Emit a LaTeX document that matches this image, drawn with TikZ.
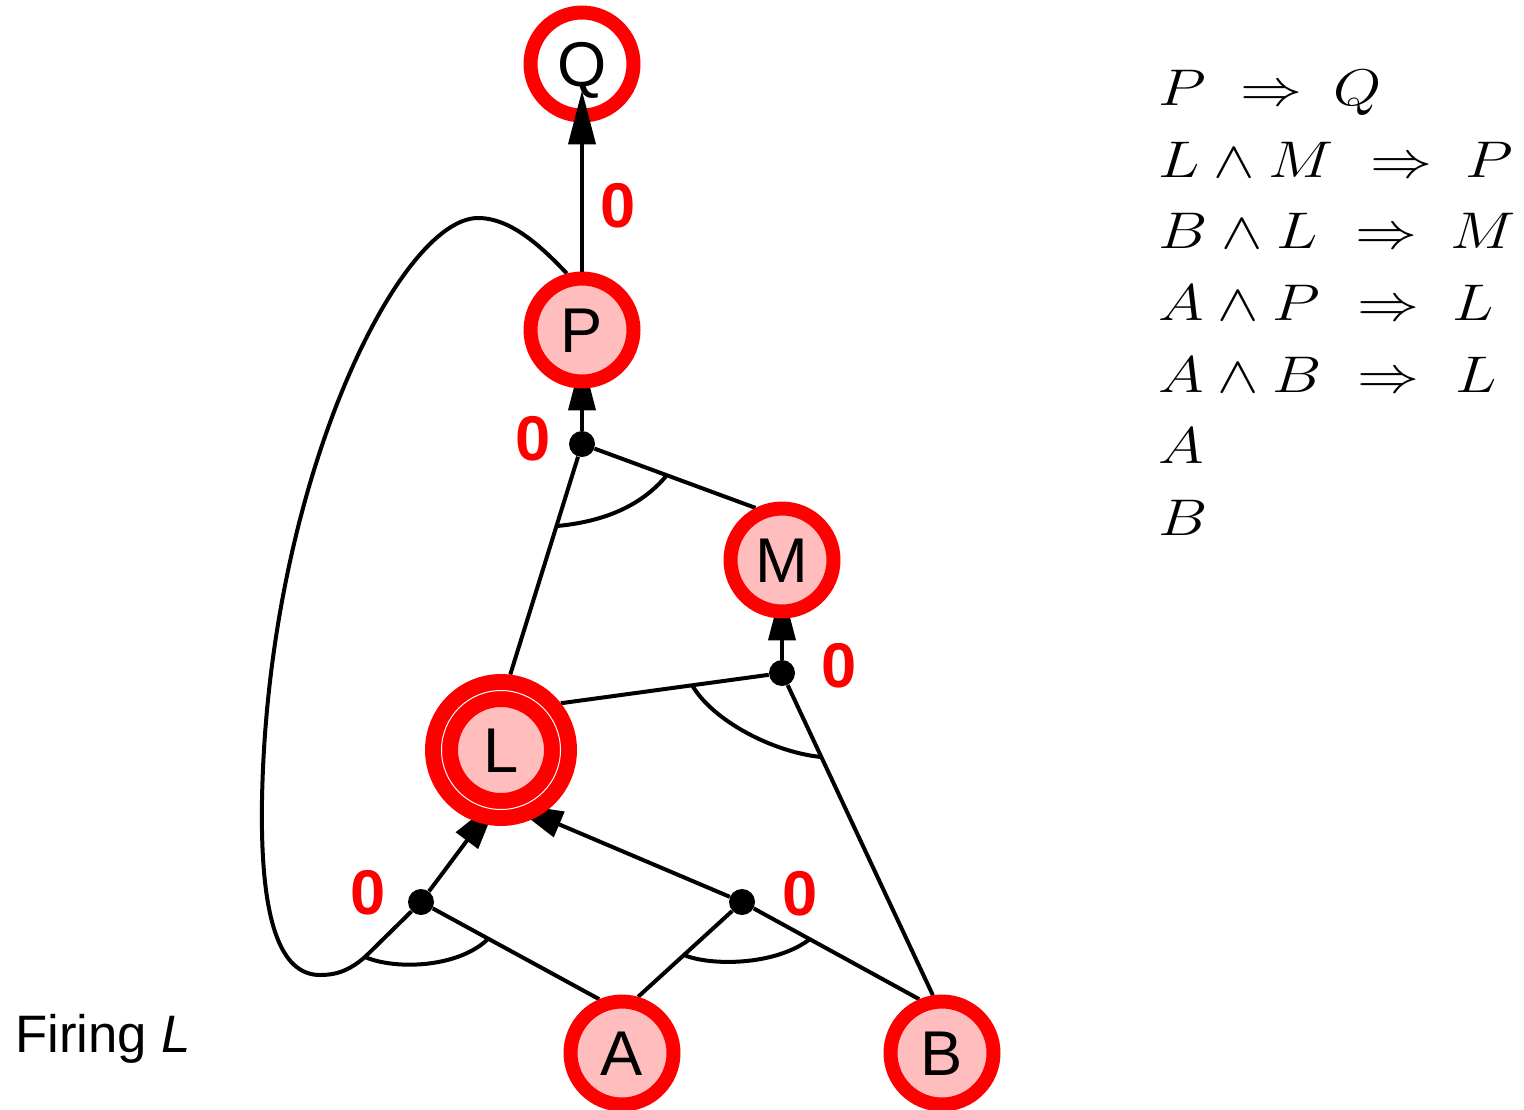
\RequirePackage{fix-cm}
\documentclass[tikz,border=0pt]{standalone}
\usepackage{fontspec}
\setmainfont{Liberation Sans}
\usetikzlibrary{arrows.meta, backgrounds}

\definecolor{ringred}{RGB}{255,0,0}
\definecolor{firepink}{RGB}{255,189,189}

\newcommand{\rulemath}[1]{\scalebox{1.42}[1.18]{$#1$}}

\tikzset{
  fact/.style  = {circle, draw=ringred, line width=0.28cm, fill=firepink,
                  minimum size=2.06cm, inner sep=0pt,
                  text height=25.8pt, text depth=0pt,
                  font=\fontsize{36}{40}\selectfont},
  goal/.style  = {fact, fill=white},
  fired/.style = {fact, line width=0.32cm, double=white, double distance=0.02cm,
                  minimum size=2.38cm, outer sep=0.33cm},
  junc/.style  = {circle, fill=black, minimum size=0.52cm, inner sep=0pt},
  link/.style  = {line width=0.08cm},
  arr/.style   = {link, -{Triangle[length=1.08cm, width=0.54cm]},
                  shorten >=-0.64cm},
  count/.style = {text=ringred, inner sep=0pt, text height=25.8pt, text depth=0pt,
                  font=\fontsize{36}{40}\selectfont\bfseries},
  rule/.style  = {anchor=base west, inner sep=0pt,
                  font=\fontsize{24.88}{30}\selectfont}
}

\begin{document}
\begin{tikzpicture}[x=0.02cm, y=-0.02cm]
  \useasboundingbox (0,0) rectangle (1524,1109);

  % ── Facts and goal ────────────────────────────────────────────────────────
  \node[goal]  (Q) at (582,64)   {Q};
  \node[fact]  (P) at (582,330)  {P};
  \node[fact]  (M) at (782,560)  {M};
  \node[fired] (L) at (501,750)  {L};
  \node[fact]  (A) at (622,1053) {A};
  \node[fact]  (B) at (942,1053) {B};

  % ── AND junctions ─────────────────────────────────────────────────────────
  \node[junc] (jP)  at (582,444) {};
  \node[junc] (jM)  at (782,673) {};
  \node[junc] (jAP) at (421,902) {};
  \node[junc] (jAB) at (742,902) {};

  % ── Counts ────────────────────────────────────────────────────────────────
  \node[count] (cQ)  at (618,205) {0};
  \node[count] (cP)  at (533,438) {0};
  \node[count] (cM)  at (839,665) {0};
  \node[count] (cAP) at (368,892) {0};
  \node[count] (cAB) at (800,893) {0};

  % ── Connections (behind the facts) ────────────────────────────────────────
  \begin{pgfonlayer}{background}
    \draw[arr] (jP)  -- (P);
    \draw[arr] (jM)  -- (M);
    \draw[arr] (jAP) -- (L.-106);
    \draw[arr] (jAB) -- (L.-60);

    \draw[link] (jP)  -- (L.83);
    \draw[link] (jP)  -- (M.117);
    \draw[link] (jM)  -- (L.38);
    \draw[link] (jM)  -- (B.99);
    \draw[link] (jAP) -- (A.113);
    \draw[link] (jAB) -- (A.74);
    \draw[link] (jAB) -- (B.113);

    % P loops round to the A & P junction
    \draw[link] (P.105) .. controls (540,245) and (510,218) .. (478,218)
                        .. controls (400,218) and (268,480) .. (262,800)
                        .. controls (260,920) and (280,975) .. (320,975)
                        .. controls (340,975) and (352,968) .. (365,957)
                        -- (jAP);

    % AND arcs
    \draw[link] (557,526) .. controls (600,522) and (640,508) .. (667,475);
    \draw[link] (692,685) .. controls (712,720) and (772,752) .. (821,757);
    \draw[link] (365,957) .. controls (395,970) and (458,968) .. (488,939);
    \draw[link] (684,955) .. controls (710,966) and (775,966) .. (810,939);
  \end{pgfonlayer}

  % P to the goal
  \draw[arr] (P) -- (Q);

  % ── Rules ─────────────────────────────────────────────────────────────────
  \node[rule] (r1l) at (1158,105) {\rulemath{P}};
  \node[rule] (r1a) at (1240,105) {\rulemath{\Rightarrow}};
  \node[rule] (r1r) at (1333,105) {\rulemath{Q}};

  \node[rule] (r2l) at (1158,177) {\rulemath{L \wedge M}};
  \node[rule] (r2a) at (1370,177) {\rulemath{\Rightarrow}};
  \node[rule] (r2r) at (1465,177) {\rulemath{P}};

  \node[rule] (r3l) at (1158,248) {\rulemath{B \wedge L}};
  \node[rule] (r3a) at (1355,248) {\rulemath{\Rightarrow}};
  \node[rule] (r3r) at (1450,248) {\rulemath{M}};

  \node[rule] (r4l) at (1158,320) {\rulemath{A \wedge P}};
  \node[rule] (r4a) at (1357,320) {\rulemath{\Rightarrow}};
  \node[rule] (r4r) at (1452,320) {\rulemath{L}};

  \node[rule] (r5l) at (1158,392) {\rulemath{A \wedge B}};
  \node[rule] (r5a) at (1357,392) {\rulemath{\Rightarrow}};
  \node[rule] (r5r) at (1455,392) {\rulemath{L}};

  \node[rule] (r6l) at (1158,463) {\rulemath{A}};
  \node[rule] (r7l) at (1158,535) {\rulemath{B}};

  % ── Caption ───────────────────────────────────────────────────────────────
  \node[anchor=base west, inner sep=0pt, font=\fontsize{30}{36}\selectfont]
        (caption) at (15,1052) {Firing \textit{L}};
\end{tikzpicture}
\end{document}
